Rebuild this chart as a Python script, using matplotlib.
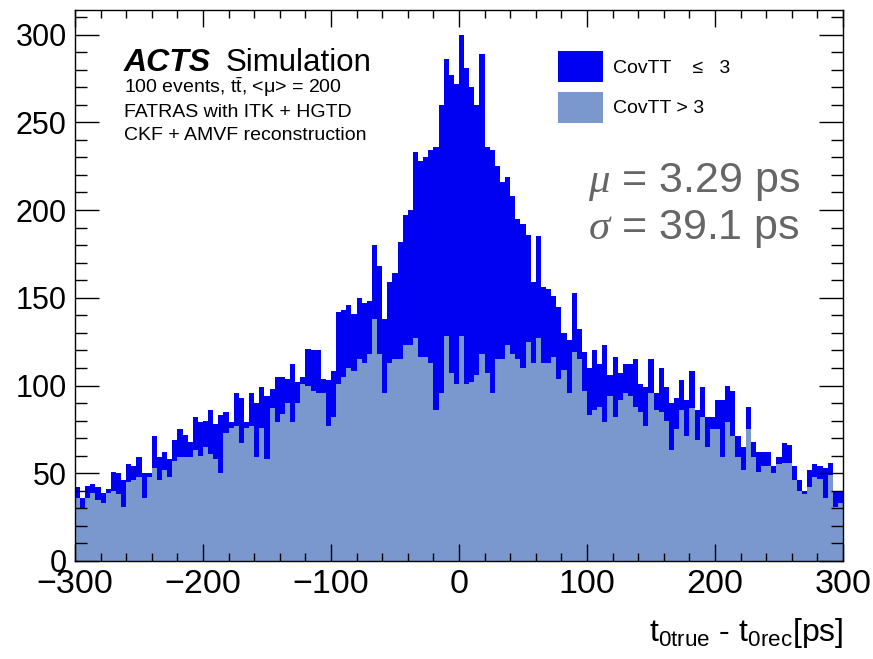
import numpy as np
import matplotlib
matplotlib.use("Agg")
import matplotlib.pyplot as plt
from matplotlib.ticker import MultipleLocator
from matplotlib.patches import Patch

plt.rcParams['font.family'] = ['Liberation Sans', 'DejaVu Sans']
plt.rcParams['mathtext.fontset'] = 'custom'
plt.rcParams['mathtext.rm'] = 'Liberation Sans'
plt.rcParams['mathtext.it'] = 'Liberation Serif:italic'

# t0true - t0rec histogram, 4 ps bins from -300 to 300 ps
t_min, t_max = -300, 300
n_bins = 150

# total entries per bin (both categories stacked)
total = [
    # -300 .. -200
    42, 36, 43, 44, 42, 39, 41, 51, 50, 46, 55, 54, 59, 50, 50, 71, 59, 62, 58, 69, 75, 72, 68, 82, 79,
    # -200 .. -100
    80, 86, 78, 83, 85, 79, 96, 93, 79, 96, 90, 99, 94, 98, 105, 105, 104, 112, 102, 105, 121, 120, 120, 104, 103,
    # -100 .. 0
    108, 142, 143, 146, 141, 150, 147, 148, 180, 168, 138, 159, 164, 182, 197, 200, 233, 228, 230, 234, 236, 260, 286, 277, 272,
    # 0 .. 100
    300, 281, 270, 260, 289, 236, 234, 225, 216, 219, 208, 195, 192, 186, 159, 185, 156, 155, 151, 145, 130, 126, 153, 132, 119,
    # 100 .. 200
    110, 120, 112, 123, 106, 116, 107, 112, 112, 115, 101, 99, 115, 96, 110, 99, 90, 93, 103, 92, 108, 86, 99, 82, 82,
    # 200 .. 300
    92, 92, 100, 97, 71, 65, 88, 68, 62, 62, 62, 54, 59, 67, 66, 54, 46, 40, 52, 55, 54, 53, 56, 40, 40,
]

# entries with CovTT > 3 (lower, light part of the stack)
covtt_gt3 = [
    36, 30, 36, 39, 35, 33, 39, 40, 38, 31, 45, 46, 48, 36, 48, 53, 46, 52, 48, 57, 59, 59, 59, 63, 60,
    65, 61, 58, 50, 73, 76, 77, 67, 76, 77, 59, 76, 58, 87, 79, 84, 90, 79, 90, 101, 100, 97, 96, 96, 77,
    82, 101, 105, 110, 108, 115, 113, 118, 138, 118, 96, 113, 115, 115, 123, 123, 127, 116, 116, 113, 86, 96, 128, 107, 101,
    128, 101, 102, 106, 118, 107, 96, 115, 115, 123, 118, 115, 110, 125, 113, 127, 113, 113, 116, 104, 109, 96, 119, 115, 97,
    83, 86, 88, 79, 94, 82, 92, 96, 94, 88, 85, 77, 96, 86, 85, 80, 63, 75, 86, 71, 87, 69, 82, 65, 75,
    75, 59, 79, 71, 59, 52, 75, 59, 51, 54, 54, 50, 55, 56, 56, 46, 40, 38, 42, 48, 47, 36, 49, 31, 33,
]

legend_labels = ["CovTT    \u2264   3", "CovTT > 3"]
fit_mean = "3.29"
fit_sigma = "39.1"

dark_blue = "#0000f2"
light_blue = "#7a98ce"

total = np.array(total, dtype=float)
covtt_gt3 = np.array(covtt_gt3, dtype=float)
covtt_le3 = total - covtt_gt3
edges = np.linspace(t_min, t_max, n_bins + 1)

fig = plt.figure(figsize=(8.73, 6.59), dpi=100)
ax = fig.add_axes([75 / 873, 1 - 561 / 659, 768 / 873, 551 / 659])

ax.stairs(covtt_gt3 + covtt_le3, edges, fill=True, color=dark_blue, lw=0)
ax.stairs(covtt_gt3, edges, fill=True, color=light_blue, lw=0)

ax.set_xlim(t_min, t_max)
ax.set_ylim(0, 314)

ax.xaxis.set_major_locator(MultipleLocator(100))
ax.xaxis.set_minor_locator(MultipleLocator(20))
ax.yaxis.set_major_locator(MultipleLocator(50))
ax.yaxis.set_minor_locator(MultipleLocator(10))
ax.tick_params(axis='both', which='both', direction='in', top=True, right=True,
               width=1.0, color='black')
ax.tick_params(axis='x', which='major', length=12, labelsize=24.5, pad=6)
ax.tick_params(axis='x', which='minor', length=6)
ax.tick_params(axis='y', which='major', length=17, labelsize=22, pad=6)
ax.tick_params(axis='y', which='minor', length=8.6)
for s in ax.spines.values():
    s.set_linewidth(1.0)

fig.text(843 / 873, 1 - 641 / 659,
         r'$\mathregular{t_{0true}}$ - $\mathregular{t_{0rec}}$[ps]',
         ha='right', va='baseline', fontsize=23)

# ACTS label
fig.text(124 / 873, 1 - 71 / 659, 'ACTS', fontsize=23, weight='bold',
         style='italic', va='baseline')
fig.text(226 / 873, 1 - 71 / 659, 'Simulation', fontsize=22.5, va='baseline')
fig.text(124 / 873, 1 - 93 / 659,
         r'100 events, $\mathregular{t\bar{t}}$, <μ> = 200',
         fontsize=14, va='baseline')
fig.text(124 / 873, 1 - 117 / 659, 'FATRAS with ITK + HGTD',
         fontsize=14, va='baseline')
fig.text(124 / 873, 1 - 140 / 659, 'CKF + AMVF reconstruction',
         fontsize=14, va='baseline')

# fit results
fig.text(800 / 873, 1 - 192 / 659, r'$\mu$ = ' + fit_mean + ' ps',
         ha='right', va='baseline', fontsize=31, color='#666666')
fig.text(800 / 873, 1 - 239 / 659, r'$\sigma$ = ' + fit_sigma + ' ps',
         ha='right', va='baseline', fontsize=31, color='#666666')

handles = [Patch(facecolor=dark_blue, edgecolor='none'),
           Patch(facecolor=light_blue, edgecolor='none')]
fig.legend(handles, legend_labels, loc='upper left',
           bbox_to_anchor=(558 / 873, 1 - 51 / 659), frameon=False,
           fontsize=14, handlelength=2.32, handleheight=2.08,
           handletextpad=0.5, labelspacing=0.5, borderpad=0,
           borderaxespad=0)

fig.savefig('out.png', dpi=100)
